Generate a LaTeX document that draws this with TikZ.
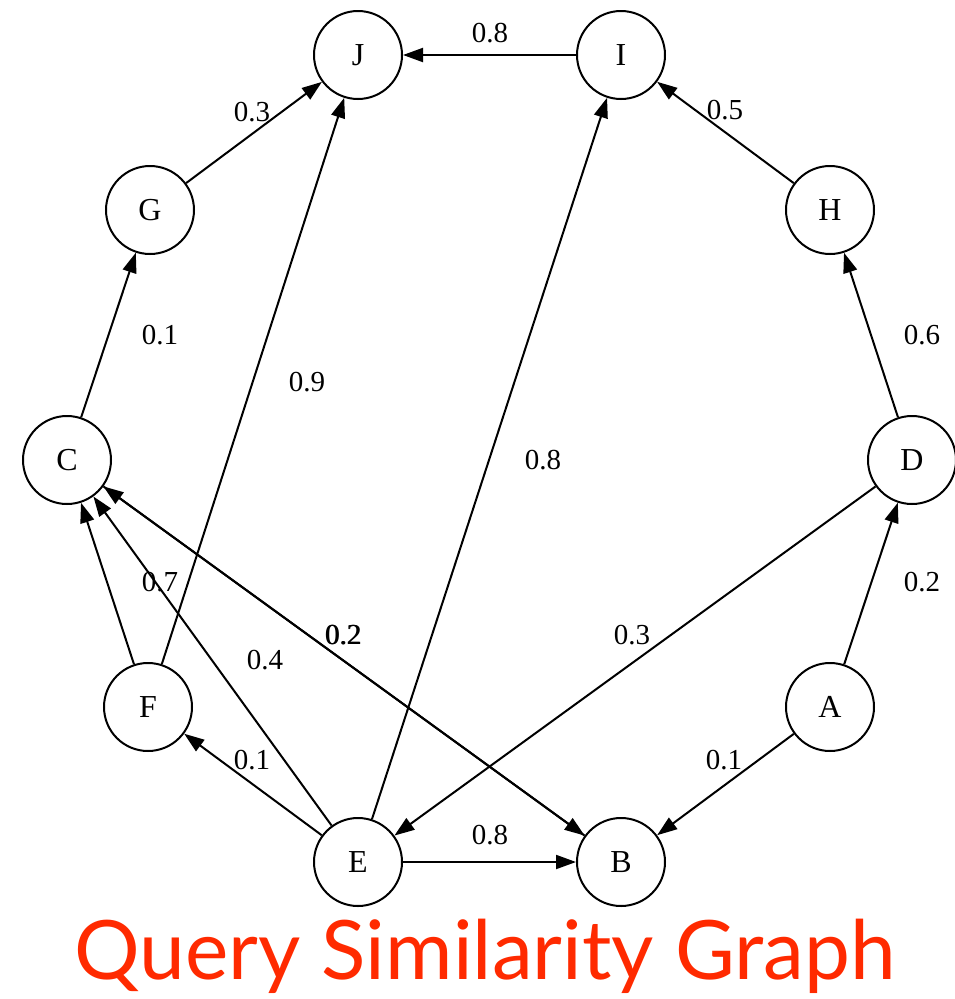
\documentclass[tikz,border=0pt]{standalone}
\usepackage{fontspec}
\setmainfont{Liberation Serif}
\newfontfamily\titlefont{Lato}
\usetikzlibrary{arrows.meta}
\definecolor{titlered}{RGB}{255,42,0}
\begin{document}
\begin{tikzpicture}[x=1pt,y=-1pt,
  vert/.style={circle,draw,line width=2pt,minimum size=88pt,inner sep=0pt,font=\fontsize{32}{32}\selectfont},
  conn/.style={line width=2pt,-{Triangle[length=20pt,width=14pt]}},
  wlab/.style={font=\fontsize{29}{29}\selectfont,inner sep=0pt}]
\useasboundingbox (0,0) rectangle (955,999);
\node[vert] (J) at (358,55) {J};
\node[vert] (I) at (621,55) {I};
\node[vert] (G) at (150,210) {G};
\node[vert] (H) at (830,210) {H};
\node[vert] (C) at (67,460) {C};
\node[vert] (D) at (912,460) {D};
\node[vert] (F) at (148,707) {F};
\node[vert] (A) at (830,707) {A};
\node[vert] (E) at (358,862) {E};
\node[vert] (B) at (621,862) {B};

\draw[conn] (I) -- (J);
\draw[conn] (G) -- (J);
\draw[conn] (F) -- (J);
\draw[conn] (H) -- (I);
\draw[conn] (E) -- (I);
\draw[conn] (C) -- (G);
\draw[conn] (D) -- (H);
\draw[conn] (A) -- (D);
\draw[conn] (D) -- (E);
\draw[conn] (A) -- (B);
\draw[conn] (E) -- (B);
\draw[conn] (E) -- (F);
\draw[conn] (F) -- (C);
\draw[conn] (E) -- (C);
\draw[conn] (B) -- (C);
\draw[conn] (C) -- (B);

\node[wlab] (l1) at (490,33) {0.8};
\node[wlab] (l2) at (252,112) {0.3};
\node[wlab] (l3) at (307,382) {0.9};
\node[wlab] (l4) at (725,110) {0.5};
\node[wlab] (l5) at (543,460) {0.8};
\node[wlab] (l6) at (160,335) {0.1};
\node[wlab] (l7) at (922,335) {0.6};
\node[wlab] (l8) at (922,582) {0.2};
\node[wlab] (l9) at (632,635) {0.3};
\node[wlab] (l10) at (724,760) {0.1};
\node[wlab] (l11) at (490,835) {0.8};
\node[wlab] (l12) at (252,760) {0.1};
\node[wlab] (l13) at (160,582) {0.7};
\node[wlab] (l14) at (265,660) {0.4};
\node[wlab] (l15) at (343,635) {0.2};
\node[wlab] (l16) at (343.8,635) {0.2};

\node[anchor=base,inner sep=0pt,text=titlered,font=\titlefont\fontsize{82}{82}\selectfont] (title) at (485,979) {Query Similarity Graph};
\end{tikzpicture}
\end{document}
